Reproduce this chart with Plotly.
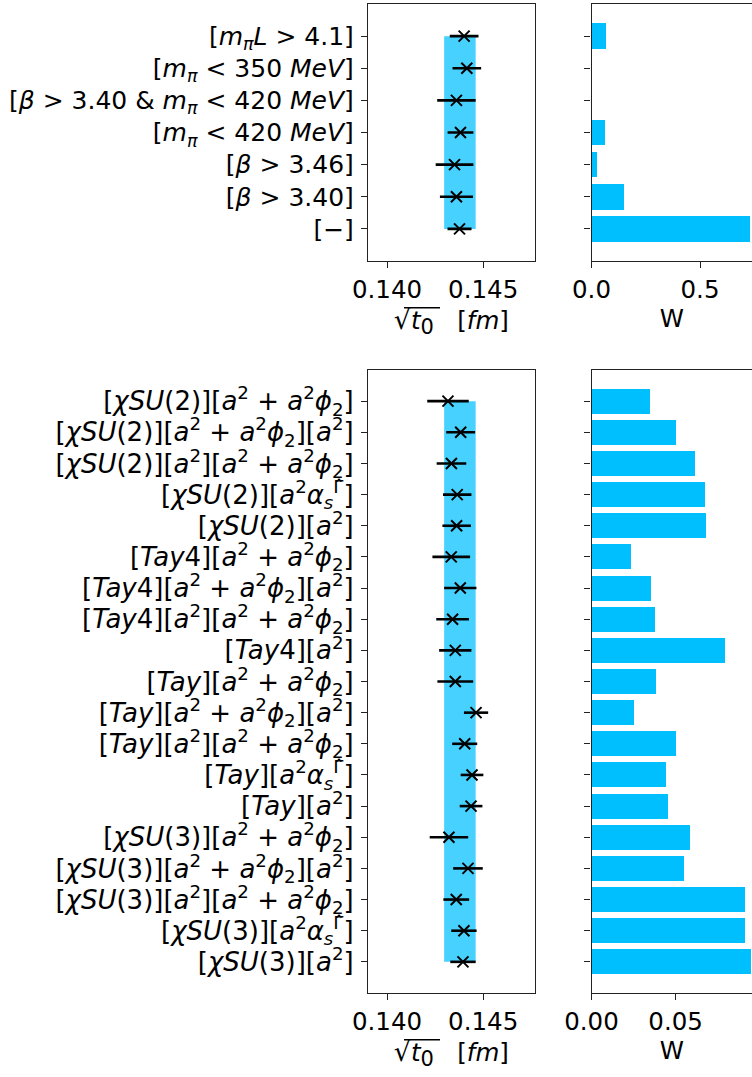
import plotly.graph_objects as go

# ---------------- data ----------------
top_labels = [
    "[−]",
    "[<i>β</i> &gt; 3.40]",
    "[<i>β</i> &gt; 3.46]",
    "[<i>m</i><sub><i>π</i></sub> &lt; 420 <i>MeV</i>]",
    "[<i>β</i> &gt; 3.40 &amp; <i>m</i><sub><i>π</i></sub> &lt; 420 <i>MeV</i>]",
    "[<i>m</i><sub><i>π</i></sub> &lt; 350 <i>MeV</i>]",
    "[<i>m</i><sub><i>π</i></sub><i>L</i> &gt; 4.1]",
]
top_val = [0.14377, 0.14361, 0.14351, 0.14382, 0.14361, 0.14415, 0.14401]
top_err = [0.000625, 0.00086, 0.00098, 0.00067, 0.00100, 0.000745, 0.000747]
top_w = [0.73, 0.146, 0.0216, 0.058, 0.0, 0.0, 0.063]

A2 = "<i>a</i><sup>2</sup>"
PHI = "<i>a</i><sup>2</sup> + <i>a</i><sup>2</sup><i>ϕ</i><sub>2</sub>"
ALS = "<i>a</i><sup>2</sup><i>α</i><sub><i>s</i></sub><sup>Γ̂</sup>"
bot_labels = [
    f"[<i>χSU</i>(3)][{A2}]",
    f"[<i>χSU</i>(3)][{ALS}]",
    f"[<i>χSU</i>(3)][{A2}][{PHI}]",
    f"[<i>χSU</i>(3)][{PHI}][{A2}]",
    f"[<i>χSU</i>(3)][{PHI}]",
    f"[<i>Tay</i>][{A2}]",
    f"[<i>Tay</i>][{ALS}]",
    f"[<i>Tay</i>][{A2}][{PHI}]",
    f"[<i>Tay</i>][{PHI}][{A2}]",
    f"[<i>Tay</i>][{PHI}]",
    f"[<i>Tay</i>4][{A2}]",
    f"[<i>Tay</i>4][{A2}][{PHI}]",
    f"[<i>Tay</i>4][{PHI}][{A2}]",
    f"[<i>Tay</i>4][{PHI}]",
    f"[<i>χSU</i>(2)][{A2}]",
    f"[<i>χSU</i>(2)][{ALS}]",
    f"[<i>χSU</i>(2)][{A2}][{PHI}]",
    f"[<i>χSU</i>(2)][{PHI}][{A2}]",
    f"[<i>χSU</i>(2)][{PHI}]",
]
bot_val = [0.14395, 0.1440, 0.1436, 0.14421, 0.14322, 0.14437, 0.14442, 0.14404, 0.14463, 0.14355,
           0.14355, 0.14341, 0.14381, 0.14334, 0.14362, 0.14365, 0.14335, 0.14383, 0.14317]
bot_err = [0.00066, 0.00066, 0.00067, 0.00077, 0.00100, 0.00059, 0.00059, 0.00065, 0.00063, 0.00093,
           0.00084, 0.00085, 0.00084, 0.00098, 0.00074, 0.00074, 0.00077, 0.00075, 0.00108]
bot_w = [0.0943, 0.0907, 0.0907, 0.0544, 0.0585, 0.0454, 0.0442, 0.0502, 0.0252, 0.0383,
         0.0793, 0.0377, 0.0353, 0.0234, 0.068, 0.0674, 0.0615, 0.0500, 0.0347]

band_lo = 0.14297
band_hi = 0.14461

# ---------------- figure ----------------
W, H = 752, 1077
BAND = "rgba(0,191,255,0.72)"
BAR = "#00BFFF"
FONT = "DejaVu Sans"
FSX = 24.5

fig = go.Figure()

def px_x(p):
    return p / W

def px_y(p):
    return 1 - p / H

panels = [
    ("x", "y", top_labels, top_val, top_err, top_w, (261, 4), 0.7396, [0, 0.5], ".1f", "x2", "y2", 25),
    ("x3", "y3", bot_labels, bot_val, bot_err, bot_w, (993, 370), 0.09542, [0, 0.05], ".2f", "x4", "y4", 26),
]

SQRT_TITLE = ("<span style='font-size:27px'>√</span><i>t</i><sub><span style='font-size:21px'>0</span></sub>"
              "&nbsp;&nbsp;&nbsp;[<i>fm</i>]")

layout_axes = {}
shapes = []
for i, (xa, ya, labels, vals, errs, ws, ydom, wmax, wticks, wfmt, xb, yb, fsy) in enumerate(panels):
    n = len(labels)
    ys = list(range(n))
    fig.add_trace(go.Scatter(
        x=[band_lo, band_hi, band_hi, band_lo, band_lo],
        y=[0, 0, n - 1, n - 1, 0],
        fill="toself", fillcolor=BAND, mode="lines", line=dict(width=0),
        xaxis=xa, yaxis=ya, showlegend=False, hoverinfo="skip"))
    fig.add_trace(go.Scatter(
        x=vals, y=ys, mode="markers",
        marker=dict(symbol="x-thin", size=11, line=dict(width=2, color="black"), color="black"),
        error_x=dict(type="data", array=errs, color="black", thickness=2.6, width=0),
        xaxis=xa, yaxis=ya, showlegend=False))
    fig.add_trace(go.Bar(
        x=ws, y=ys, orientation="h", width=0.8, marker=dict(color=BAR, line=dict(width=0)),
        xaxis=xb, yaxis=yb, showlegend=False))

    common = dict(showgrid=False, zeroline=False, showline=True, linecolor="#222222", linewidth=1.3,
                  ticks="outside", ticklen=6, tickwidth=1.3, tickcolor="#222222", automargin=False)
    xfont = dict(family=FONT, size=FSX, color="black")
    yfont = dict(family=FONT, size=fsy, color="black")
    xname = "xaxis" if xa == "x" else "xaxis" + xa[1:]
    yname = "yaxis" if ya == "y" else "yaxis" + ya[1:]
    xbname = "xaxis" + xb[1:]
    ybname = "yaxis" + yb[1:]
    yd = [px_y(ydom[0]), px_y(ydom[1])]
    layout_axes[xname] = dict(common, domain=[px_x(368), px_x(534.5)], range=[0.13901, 0.14767],
                              tickvals=[0.140, 0.145], tickformat=".3f", mirror=True, anchor=ya,
                              tickfont=xfont,
                              title=dict(text=SQRT_TITLE, font=dict(family=FONT, size=FSX, color="black"), standoff=8))
    layout_axes[yname] = dict(common, domain=yd, range=[-1, n], tickvals=ys, ticktext=labels,
                              mirror=True, anchor=xa, ticklabelstandoff=2, tickfont=yfont)
    layout_axes[xbname] = dict(common, domain=[px_x(591.5), 1.0], range=[0, wmax], tickvals=wticks,
                               tickformat=wfmt, mirror=True, anchor=yb, tickfont=xfont,
                               title=dict(text="W", font=dict(family=FONT, size=FSX, color="black"), standoff=6))
    layout_axes[ybname] = dict(common, domain=yd, range=[-1, n], tickvals=ys,
                               showticklabels=False, mirror=False, anchor=xb)
    # vinculum of the square-root sign in the x-axis title
    ybar = ydom[0] + 46.7
    shapes.append(dict(type="line", xref="paper", yref="paper",
                       x0=px_x(404), x1=px_x(440), y0=px_y(ybar), y1=px_y(ybar),
                       line=dict(color="black", width=1.4)))

fig.update_layout(
    width=W, height=H, margin=dict(l=0, r=0, t=0, b=0, autoexpand=False),
    paper_bgcolor="white", plot_bgcolor="white",
    font=dict(family=FONT, size=FSX, color="black"),
    bargap=0, showlegend=False, shapes=shapes,
    **layout_axes)

fig.write_html("out.html")
